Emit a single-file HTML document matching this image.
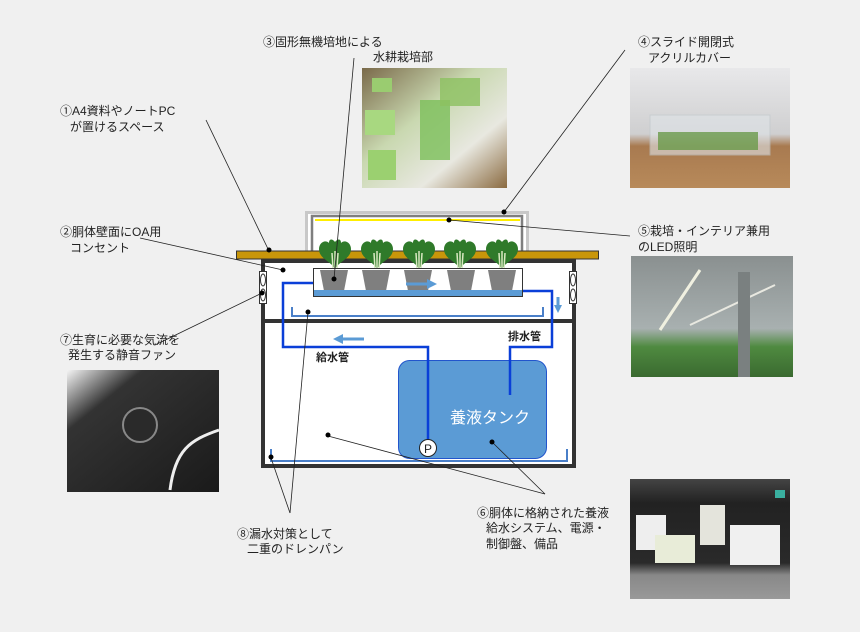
<!DOCTYPE html>
<html><head><meta charset="utf-8"><style>
html,body{margin:0;padding:0;background:#f0f0f0;}
svg{display:block;}
text{font-family:"Liberation Sans","Noto Sans CJK JP",sans-serif;fill:#222;font-size:12px;}
</style></head><body>
<svg width="860" height="632" viewBox="0 0 860 632" xmlns="http://www.w3.org/2000/svg">
<defs>
<linearGradient id="g3" x1="0" y1="0" x2="1" y2="1"><stop offset="0" stop-color="#7a6a4a"/><stop offset=".4" stop-color="#c9d8b0"/><stop offset=".7" stop-color="#e8e8e0"/><stop offset="1" stop-color="#8a6a40"/></linearGradient>
<linearGradient id="g4" x1="0" y1="0" x2="0" y2="1"><stop offset="0" stop-color="#e8e8ea"/><stop offset=".55" stop-color="#cfcfd0"/><stop offset=".65" stop-color="#a87a50"/><stop offset="1" stop-color="#b88a5a"/></linearGradient>
<linearGradient id="g5" x1="0" y1="0" x2="0" y2="1"><stop offset="0" stop-color="#8a9090"/><stop offset=".6" stop-color="#a8b0b0"/><stop offset=".75" stop-color="#4f8a40"/><stop offset="1" stop-color="#3a6a30"/></linearGradient>
<linearGradient id="g7" x1="0" y1="0" x2="1" y2="1"><stop offset="0" stop-color="#f4f4f4"/><stop offset=".25" stop-color="#333"/><stop offset="1" stop-color="#1a1a1a"/></linearGradient>
<linearGradient id="g6" x1="0" y1="0" x2="0" y2="1"><stop offset="0" stop-color="#444"/><stop offset=".2" stop-color="#222"/><stop offset=".7" stop-color="#2a2a2a"/><stop offset=".8" stop-color="#888"/><stop offset="1" stop-color="#999"/></linearGradient>
<g id="plant"><path d="M0,28 C-4,20 -16,18 -16,8 C-16,2 -10,-2 -6,2 C-6,-3 -2,-2 0,1 C2,-2 6,-3 6,2 C10,-2 16,2 16,8 C16,18 4,20 0,28Z" fill="#2f7a2a"/><path d="M-2,28 L-3,12 M2,28 L3,12 M0,28 L0,10" stroke="#d8e8c0" stroke-width="1.5"/></g>
<g id="pot"><path d="M-14,0 L14,0 L10,21 L-10,21Z" fill="#7f7f7f"/></g>
</defs>

<!-- photos -->
<rect x="362" y="68" width="145" height="120" fill="url(#g3)"/>
<rect x="372" y="78" width="20" height="14" fill="#9acc70"/><rect x="365" y="110" width="30" height="25" fill="#a8d880"/><rect x="368" y="150" width="28" height="30" fill="#9bd070"/>
<rect x="420" y="100" width="30" height="60" fill="#7cbf5a" opacity=".8"/>
<rect x="440" y="78" width="40" height="28" fill="#8cc060" opacity=".8"/>
<rect x="630" y="68" width="160" height="120" fill="url(#g4)"/>
<rect x="650" y="115" width="120" height="40" fill="#dfe4e8" opacity=".6" stroke="#c0c8cc"/>
<rect x="658" y="132" width="100" height="18" fill="#6a9a4a" opacity=".8"/>
<rect x="631" y="256" width="162" height="121" fill="url(#g5)"/>
<line x1="660" y1="330" x2="700" y2="270" stroke="#f0f0e0" stroke-width="3"/><line x1="690" y1="325" x2="775" y2="285" stroke="#e8e8e0" stroke-width="2"/>
<rect x="738" y="272" width="12" height="105" fill="#7a8080"/>
<rect x="67" y="370" width="152" height="122" fill="url(#g7)"/>
<circle cx="140" cy="425" r="17" fill="#2a2a2a" stroke="#888" stroke-width="2"/><path d="M170,490 C175,450 190,440 219,430" stroke="#eee" stroke-width="3" fill="none"/>
<rect x="630" y="479" width="160" height="120" fill="url(#g6)"/>
<rect x="636" y="515" width="30" height="35" fill="#eee"/><rect x="700" y="505" width="25" height="40" fill="#e4e4dc"/><rect x="730" y="525" width="50" height="40" fill="#f0f0f0"/><rect x="655" y="535" width="40" height="28" fill="#e8ecd8"/><rect x="775" y="490" width="10" height="8" fill="#3ab0a0"/>

<!-- cover -->
<rect x="306.5" y="212.5" width="221" height="45" fill="#fff" stroke="#c8c8c8" stroke-width="3"/>
<path d="M312,258 L312,216 L522,216 L522,258" fill="none" stroke="#7f7f7f" stroke-width="2.5"/>
<line x1="315" y1="220" x2="520" y2="220" stroke="#ffee00" stroke-width="2"/>

<!-- body -->
<rect x="263" y="261" width="311" height="205" fill="#fff" stroke="#333" stroke-width="4"/>
<line x1="263" y1="321" x2="574" y2="321" stroke="#333" stroke-width="4"/>
<rect x="236.5" y="251" width="362" height="8" fill="#c8960a" stroke="#333" stroke-width="1"/>
<rect x="259.5" y="271.5" width="7" height="32" fill="#fff" stroke="#333"/>
<ellipse cx="263" cy="280" rx="2.5" ry="6" fill="none" stroke="#333"/><ellipse cx="263" cy="295" rx="2.5" ry="6" fill="none" stroke="#333"/>
<rect x="569.5" y="271.5" width="7" height="32" fill="#fff" stroke="#333"/>
<ellipse cx="573" cy="280" rx="2.5" ry="6" fill="none" stroke="#333"/><ellipse cx="573" cy="295" rx="2.5" ry="6" fill="none" stroke="#333"/>

<use href="#plant" x="335" y="241"/><use href="#plant" x="377" y="241"/><use href="#plant" x="419" y="241"/><use href="#plant" x="460" y="241"/><use href="#plant" x="502" y="241"/>
<rect x="313.5" y="268.5" width="209" height="28" fill="#fff" stroke="#333"/>
<use href="#pot" x="334" y="270"/><use href="#pot" x="376" y="270"/><use href="#pot" x="418" y="270"/><use href="#pot" x="461" y="270"/><use href="#pot" x="502" y="270"/>
<rect x="314" y="290" width="208" height="6" fill="#5b9bd5"/>
<path d="M406,284 L428,284" stroke="#5b9bd5" stroke-width="3"/><path d="M427,279 L437,284 L427,289Z" fill="#5b9bd5"/>

<path d="M292,307 L292,316 L543,316 L543,307" fill="none" stroke="#4a7fc8" stroke-width="2"/>
<path d="M271,449 L271,461 L567,461 L567,449" fill="none" stroke="#4a7fc8" stroke-width="2"/>

<rect x="398.5" y="360.5" width="148" height="98" rx="11" fill="#5b9bd5" stroke="#2255cc" stroke-width="1"/>
<text x="490" y="423" text-anchor="middle" style="font-size:16px;fill:#fff">養液タンク</text>

<path d="M313,283 L283,283 L283,347 L428,347 L428,440" fill="none" stroke="#0a3fd8" stroke-width="2.5"/>
<path d="M523,291 L552,291 L552,347 L510,347 L510,395" fill="none" stroke="#0a3fd8" stroke-width="2.5"/>
<circle cx="428" cy="448" r="8.5" fill="#fff" stroke="#222"/>
<text x="428" y="453" text-anchor="middle" style="font-size:12px">P</text>
<path d="M342,339 L364,339" stroke="#5b9bd5" stroke-width="3"/><path d="M343,334 L333,339 L343,344Z" fill="#5b9bd5"/>
<path d="M558,297 L558,306" stroke="#5b9bd5" stroke-width="3"/><path d="M554,305 L558,313 L562,305Z" fill="#5b9bd5"/>
<text x="508" y="340" style="font-size:11px;font-weight:bold">排水管</text>
<text x="316" y="361" style="font-size:11px;font-weight:bold">給水管</text>

<g stroke="#222" stroke-width="0.8" fill="none">
<line x1="206" y1="120" x2="269" y2="251"/>
<line x1="140" y1="238" x2="283" y2="270"/>
<line x1="354" y1="58" x2="334" y2="279"/>
<line x1="625" y1="50" x2="504" y2="212"/>
<line x1="630" y1="236" x2="449" y2="220"/>
<line x1="155" y1="345" x2="262" y2="293"/>
<line x1="271" y1="458" x2="290" y2="513"/>
<line x1="308" y1="312" x2="290" y2="513"/>
<line x1="328" y1="436" x2="545" y2="494"/>
<line x1="492" y1="442" x2="545" y2="494"/>
</g>
<g fill="#000">
<circle cx="269" cy="250" r="2.5"/><circle cx="283" cy="270" r="2.5"/><circle cx="334" cy="279" r="2.5"/><circle cx="504" cy="212" r="2.5"/><circle cx="449" cy="220" r="2.5"/><circle cx="262" cy="293" r="2.5"/><circle cx="271" cy="457" r="2.5"/><circle cx="308" cy="312" r="2.5"/><circle cx="328" cy="435" r="2.5"/><circle cx="492" cy="442" r="2.5"/>
</g>

<text x="60" y="115">①A4資料やノートPC</text>
<text x="70" y="131">が置けるスペース</text>
<text x="60" y="236">②胴体壁面にOA用</text>
<text x="70" y="252">コンセント</text>
<text x="263" y="46">③固形無機培地による</text>
<text x="373" y="61">水耕栽培部</text>
<text x="638" y="46">④スライド開閉式</text>
<text x="648" y="62">アクリルカバー</text>
<text x="638" y="235">⑤栽培・インテリア兼用</text>
<text x="638" y="251">のLED照明</text>
<text x="60" y="344">⑦生育に必要な気流を</text>
<text x="68" y="359">発生する静音ファン</text>
<text x="237" y="538">⑧漏水対策として</text>
<text x="247" y="553">二重のドレンパン</text>
<text x="477" y="517">⑥胴体に格納された養液</text>
<text x="486" y="532">給水システム、電源・</text>
<text x="486" y="548">制御盤、備品</text>
</svg>
</body></html>
